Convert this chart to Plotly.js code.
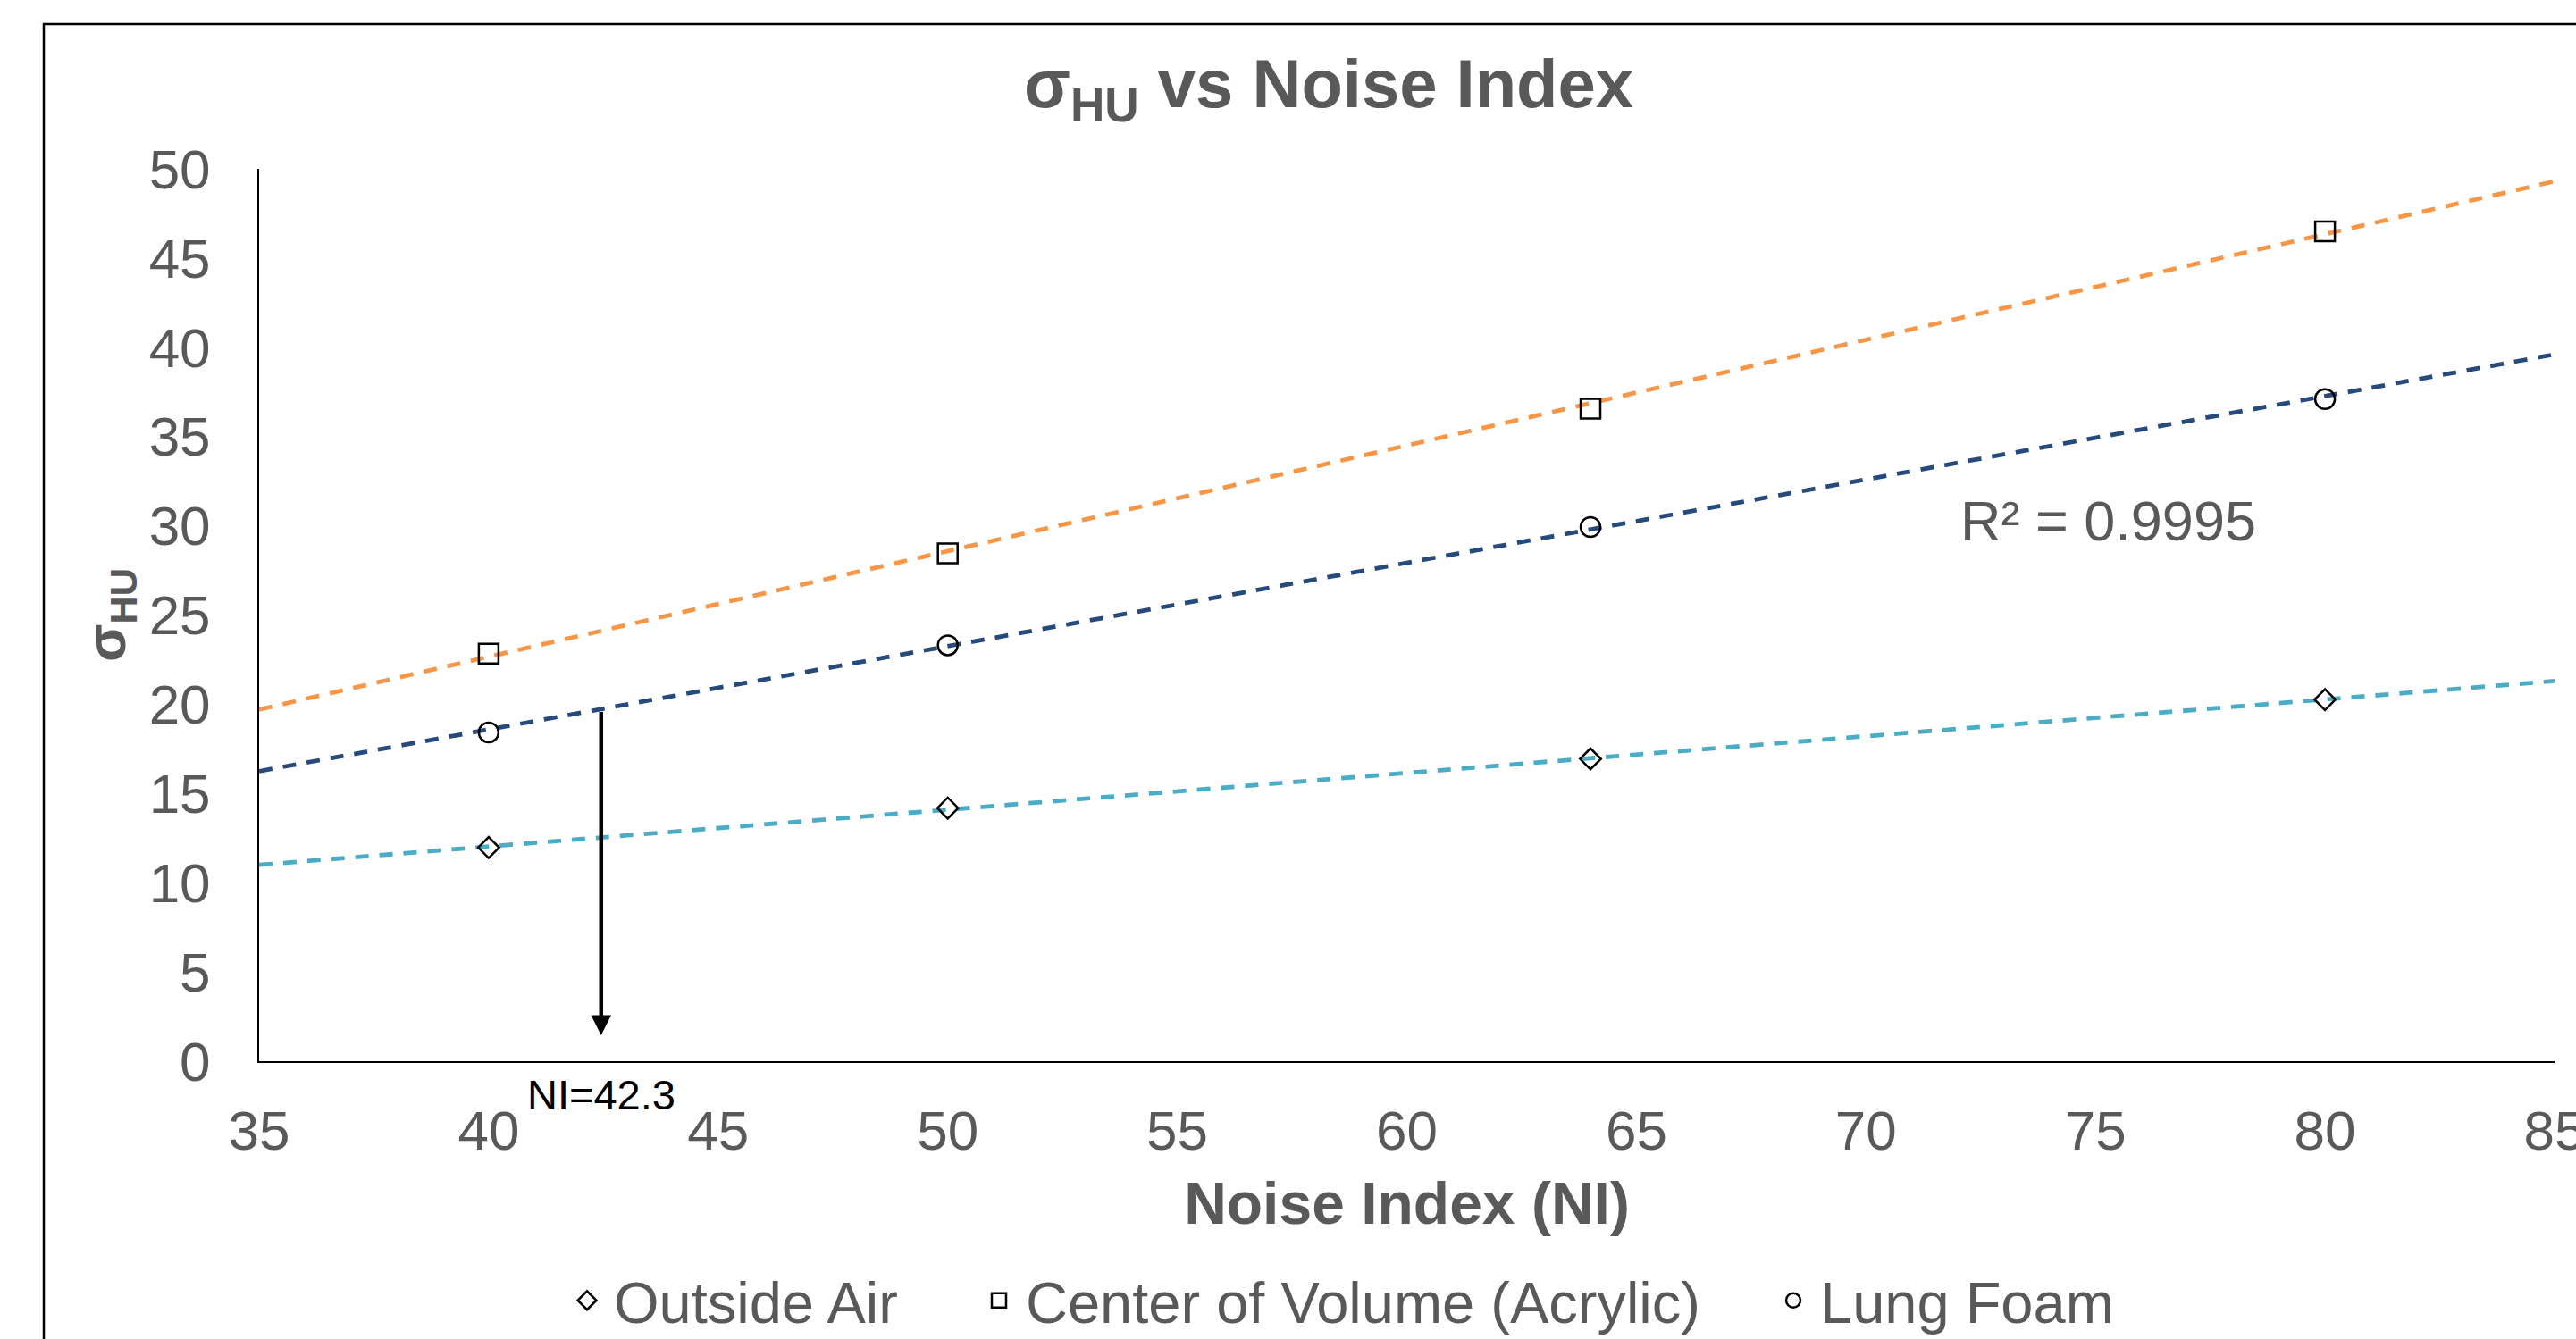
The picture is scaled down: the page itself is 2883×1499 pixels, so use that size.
<!DOCTYPE html>
<html>
<head>
<meta charset="utf-8">
<script src="https://cdn.plot.ly/plotly-3.0.1.min.js"></script>
<style>
  html, body { margin: 0; padding: 0; background: #ffffff; }
  #chart { width: 2883px; height: 1499px; }
</style>
</head>
<body>
<div id="chart"></div>
<script>
// Data
const noiseIndex = [40, 50, 64, 80];
const outsideAir = [11.97, 14.18, 16.94, 20.26];
const centerAcrylic = [22.84, 28.45, 36.56, 46.5];
const lungFoam = [18.42, 23.3, 29.93, 37.1];

// Trendline end points (x = 35 and x = 85)
const trendX = [35, 85];
const trendAir = [11.0, 21.3];
const trendAcrylic = [19.7, 49.3];
const trendLung = [16.25, 39.6];

const xTicks = [35, 40, 45, 50, 55, 60, 65, 70, 75, 80, 85];
const yTicks = [0, 5, 10, 15, 20, 25, 30, 35, 40, 45, 50];

const seriesNames = ['Outside Air', 'Center of Volume (Acrylic)', 'Lung Foam'];

const FONT = 'Liberation Sans, Arial, sans-serif';
const GRAY = '#595959';
const C_AIR = '#4BACC6';
const C_ACR = '#F79646';
const C_LUNG = '#264A7C';

const trendLine = (y, color) => ({
  x: trendX, y: y, type: 'scatter', mode: 'lines',
  line: { color: color, width: 4.8, dash: '15px,12px' },
  showlegend: false, hoverinfo: 'skip'
});

const markers = (y, name, symbol, size, lw) => {
  const t = {
    x: noiseIndex, y: y, type: 'scatter', mode: 'markers', name: name,
    marker: { symbol: symbol, size: size, color: '#000000', line: { color: '#000000', width: 2.5 } }
  };
  if (lw) t.legendwidth = lw;
  return t;
};

const data = [
  trendLine(trendAir, C_AIR),
  trendLine(trendAcrylic, C_ACR),
  trendLine(trendLung, C_LUNG),
  markers(outsideAir, seriesNames[0], 'diamond-open', 18, 396),
  markers(centerAcrylic, seriesNames[1], 'square-open', 22, 824),
  markers(lungFoam, seriesNames[2], 'circle-open', 22, null)
];

const layout = {
  width: 2883, height: 1499,
  margin: { l: 290, r: 24, t: 189, b: 311, pad: 0 },
  paper_bgcolor: '#ffffff', plot_bgcolor: '#ffffff',
  font: { family: FONT, color: GRAY, size: 62 },
  title: {
    text: '<b>σ<sub>HU</sub> vs Noise Index</b>',
    font: { family: FONT, size: 76, color: GRAY },
    xref: 'container', yref: 'container',
    x: 1487 / 2883, xanchor: 'center',
    y: 1 - 93 / 1499, yanchor: 'middle'
  },
  xaxis: {
    range: [35, 85], tickvals: xTicks, ticktext: xTicks.map(String),
    showgrid: false, zeroline: false,
    showline: true, linecolor: '#000000', linewidth: 2,
    ticks: '', ticklabelstandoff: 23, ticklabeloverflow: 'allow',
    tickfont: { family: FONT, size: 62, color: GRAY },
    title: { text: '<b>Noise Index (NI)</b>', font: { family: FONT, size: 66, color: GRAY }, standoff: 24 }
  },
  yaxis: {
    range: [0, 50], tickvals: yTicks, ticktext: yTicks.map(String),
    showgrid: false, zeroline: false,
    showline: true, linecolor: '#000000', linewidth: 2,
    ticks: '', ticklabelstandoff: 40,
    tickfont: { family: FONT, size: 62, color: GRAY },
    title: { text: '<b>σ<sub>HU</sub></b>', font: { family: FONT, size: 62, color: GRAY }, standoff: 6 }
  },
  showlegend: true,
  legend: {
    orientation: 'h',
    xref: 'container', yref: 'container',
    x: 627 / 2883, xanchor: 'left',
    y: 1 - 1456 / 1499, yanchor: 'middle',
    itemwidth: 50,
    font: { family: FONT, size: 65, color: GRAY },
    bgcolor: 'rgba(0,0,0,0)',
    traceorder: 'normal'
  },
  annotations: [
    {
      x: 42.45, y: 1.45, xref: 'x', yref: 'y',
      ax: 42.45, ay: 19.65, axref: 'x', ayref: 'y',
      text: '', showarrow: true,
      arrowhead: 2, arrowsize: 1, arrowwidth: 4.5, arrowcolor: '#000000', standoff: 0
    },
    {
      x: 42.45, y: -1.9 / 50, xref: 'x', yref: 'paper',
      text: 'NI=42.3', showarrow: false,
      xanchor: 'center', yanchor: 'middle',
      font: { family: FONT, size: 47, color: '#000000' }
    },
    {
      x: 75.27, y: 30.3, xref: 'x', yref: 'y',
      text: 'R² = 0.9995', showarrow: false,
      xanchor: 'center', yanchor: 'middle',
      font: { family: FONT, size: 63, color: GRAY }
    }
  ],
  shapes: [
    {
      type: 'rect', xref: 'paper', yref: 'paper',
      x0: (49 - 290) / 2569, x1: 1.3,
      y0: -0.6, y1: (1188 - 27) / 999,
      line: { color: '#000000', width: 2.5 }, fillcolor: 'rgba(0,0,0,0)',
      layer: 'below'
    }
  ]
};

Plotly.newPlot('chart', data, layout, { staticPlot: true, displayModeBar: false });
</script>
</body>
</html>
